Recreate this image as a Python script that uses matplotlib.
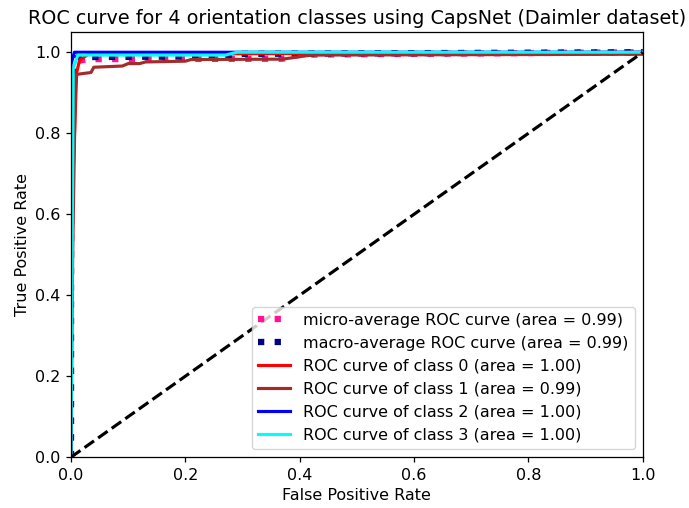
import matplotlib
matplotlib.use('Agg')
import matplotlib.pyplot as plt

# ROC points
micro_fpr = [0.0, 0.0, 0.004, 0.01, 0.03, 0.37, 0.40, 1.0]
micro_tpr = [0.0, 0.90, 0.96, 0.978, 0.983, 0.984, 0.994, 1.0]
micro_auc = 0.99

macro_fpr = [0.0, 0.0, 0.004, 0.012, 0.27, 0.29, 1.0]
macro_tpr = [0.0, 0.92, 0.97, 0.988, 0.99, 0.996, 1.0]
macro_auc = 0.99

class_fpr = [
    [0.0, 0.0, 0.005, 0.01, 0.015, 0.03, 1.0],
    [0.0, 0.003, 0.008, 0.035, 0.04, 0.09, 0.10, 0.12, 0.13, 0.20, 0.21, 0.37, 0.42, 1.0, 1.0],
    [0.0, 0.0, 0.006, 1.0],
    [0.0, 0.004, 0.012, 0.27, 0.29, 1.0],
]
class_tpr = [
    [0.0, 0.55, 0.75, 0.95, 0.98, 0.995, 1.0],
    [0.0, 0.50, 0.945, 0.95, 0.963, 0.966, 0.972, 0.972, 0.976, 0.978, 0.982, 0.983, 0.993, 0.995, 1.0],
    [0.0, 0.97, 1.0, 1.0],
    [0.0, 0.96, 0.993, 0.993, 1.0, 1.0],
]
class_auc = [1.00, 0.99, 1.00, 1.00]
class_colors = ['red', 'brown', 'blue', 'cyan']

# the reference looks like a default figure saved at a slightly higher dpi
s = 1.13
plt.rcParams['font.size'] = 10 * 1.15
plt.rcParams['axes.titlesize'] = 12 * 1.15
plt.rcParams['axes.linewidth'] = 0.8 * s
plt.rcParams['xtick.major.width'] = 0.8 * s
plt.rcParams['ytick.major.width'] = 0.8 * s
plt.rcParams['xtick.major.size'] = 3.5 * s
plt.rcParams['ytick.major.size'] = 3.5 * s

fig = plt.figure(figsize=(6.89, 5.08), dpi=100)
ax = fig.add_axes([0.103, 0.100, 0.830, 0.837])

ax.plot(micro_fpr, micro_tpr, color='deeppink', linestyle=':', linewidth=4 * s,
        label='micro-average ROC curve (area = {0:0.2f})'.format(micro_auc))
ax.plot(macro_fpr, macro_tpr, color='navy', linestyle=':', linewidth=4 * s,
        label='macro-average ROC curve (area = {0:0.2f})'.format(macro_auc))

for i, color in enumerate(class_colors):
    ax.plot(class_fpr[i], class_tpr[i], color=color, lw=2 * s,
            label='ROC curve of class {0} (area = {1:0.2f})'.format(i, class_auc[i]))

ax.plot([0, 1], [0, 1], 'k--', lw=2 * s)
ax.set_xlim([0.0, 1.0])
ax.set_ylim([0.0, 1.05])
ax.set_xlabel('False Positive Rate')
ax.set_ylabel('True Positive Rate')
ax.set_title('ROC curve for 4 orientation classes using CapsNet (Daimler dataset)')
ax.legend(loc='lower right')

fig.savefig('out.png', dpi=100)
